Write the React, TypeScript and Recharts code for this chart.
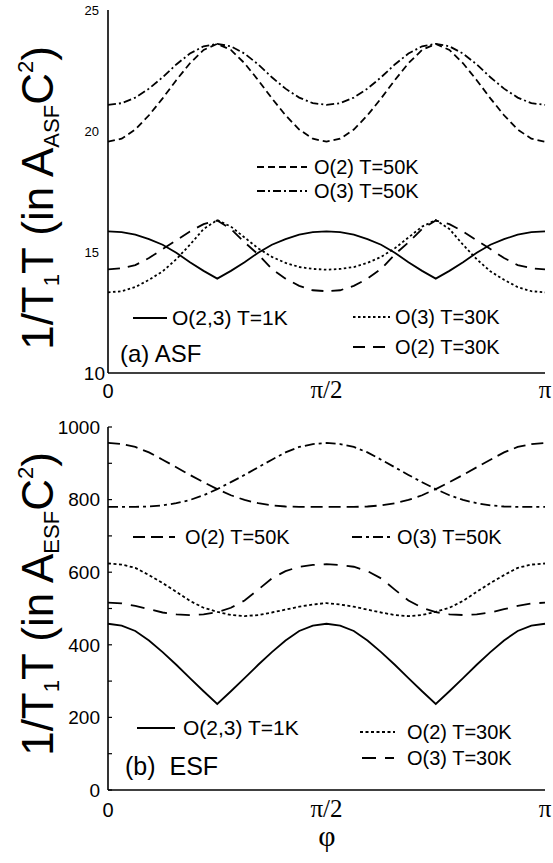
import React from 'react';
import { LineChart, Line, XAxis, YAxis } from 'recharts';

// phi in units of pi/32
const PHI = [0, 1, 2, 3, 4, 5, 6, 7, 8, 9, 10, 11, 12, 13, 14, 15, 16, 17, 18, 19, 20, 21, 22, 23, 24, 25, 26, 27, 28, 29, 30, 31, 32];
const X_TICKS = [0, 16, 32];
const X_TICK_LABELS = ['0', 'π/2', 'π'];
const ASF_Y_TICKS = [10, 15, 20, 25];
const ESF_Y_TICKS = [0, 100, 200, 300, 400, 500, 600, 700, 800, 900, 1000];

// (a) ASF
const ASF_O23_T1 = [15.85, 15.82, 15.72, 15.53, 15.30, 14.97, 14.58, 14.22, 13.90, 14.22, 14.58, 14.97, 15.30, 15.53, 15.72, 15.82, 15.85, 15.82, 15.72, 15.53, 15.30, 14.97, 14.58, 14.22, 13.90, 14.22, 14.58, 14.97, 15.30, 15.53, 15.72, 15.82, 15.85];
const ASF_O3_T30 = [13.33, 13.38, 13.55, 13.85, 14.20, 14.70, 15.30, 15.95, 16.32, 16.05, 15.60, 15.15, 14.80, 14.55, 14.38, 14.30, 14.27, 14.30, 14.38, 14.55, 14.80, 15.15, 15.60, 16.05, 16.32, 15.95, 15.30, 14.70, 14.20, 13.85, 13.55, 13.38, 13.33];
const ASF_O2_T30 = [14.28, 14.33, 14.46, 14.75, 15.12, 15.48, 15.85, 16.15, 16.30, 15.95, 15.40, 14.90, 14.30, 13.90, 13.60, 13.42, 13.38, 13.42, 13.60, 13.90, 14.30, 14.90, 15.40, 15.95, 16.30, 16.15, 15.85, 15.48, 15.12, 14.75, 14.46, 14.33, 14.28];
const ASF_O2_T50 = [19.56, 19.68, 20.06, 20.65, 21.35, 22.10, 22.80, 23.35, 23.60, 23.35, 22.80, 22.10, 21.35, 20.65, 20.06, 19.68, 19.56, 19.68, 20.06, 20.65, 21.35, 22.10, 22.80, 23.35, 23.60, 23.35, 22.80, 22.10, 21.35, 20.65, 20.06, 19.68, 19.56];
const ASF_O3_T50 = [21.08, 21.15, 21.38, 21.75, 22.22, 22.75, 23.20, 23.50, 23.60, 23.50, 23.20, 22.75, 22.22, 21.75, 21.38, 21.15, 21.08, 21.15, 21.38, 21.75, 22.22, 22.75, 23.20, 23.50, 23.60, 23.50, 23.20, 22.75, 22.22, 21.75, 21.38, 21.15, 21.08];

// (b) ESF
const ESF_O23_T1 = [458, 453, 438, 412, 380, 345, 308, 272, 237, 272, 308, 345, 380, 412, 438, 453, 458, 453, 438, 412, 380, 345, 308, 272, 237, 272, 308, 345, 380, 412, 438, 453, 458];
const ESF_O2_T30 = [624, 621, 612, 592, 570, 546, 521, 502, 491, 482, 479, 482, 489, 497, 505, 511, 515, 511, 505, 497, 489, 482, 479, 482, 491, 502, 521, 546, 570, 592, 612, 621, 624];
const ESF_O3_T30 = [516, 514, 507, 498, 489, 484, 482, 484, 490, 502, 522, 552, 583, 603, 615, 620, 622, 620, 615, 603, 583, 552, 522, 502, 490, 484, 482, 484, 489, 498, 507, 514, 516];
const ESF_O2_T50 = [956, 953, 945, 930, 910, 889, 868, 848, 829, 812, 799, 790, 784, 781, 780, 780, 780, 780, 780, 781, 784, 790, 799, 812, 829, 848, 868, 889, 910, 930, 945, 953, 956];
const ESF_O3_T50 = [780, 780, 780, 781, 784, 790, 799, 812, 829, 848, 868, 889, 910, 930, 945, 953, 956, 953, 945, 930, 910, 889, 868, 848, 829, 812, 799, 790, 784, 781, 780, 780, 780];

const asfData = PHI.map((phi, i) => ({
  phi,
  o23t1: ASF_O23_T1[i],
  o3t30: ASF_O3_T30[i],
  o2t30: ASF_O2_T30[i],
  o2t50: ASF_O2_T50[i],
  o3t50: ASF_O3_T50[i],
}));
const esfData = PHI.map((phi, i) => ({
  phi,
  o23t1: ESF_O23_T1[i],
  o2t30: ESF_O2_T30[i],
  o3t30: ESF_O3_T30[i],
  o2t50: ESF_O2_T50[i],
  o3t50: ESF_O3_T50[i],
}));

const SANS = '"Liberation Sans", Arial, Helvetica, sans-serif';
const SERIF = '"Liberation Serif", "Times New Roman", serif';
const AXIS = { stroke: '#000', strokeWidth: 1.6 };
const LW = 1.8;

const makeXTick = (baseOffset: number) => (props: any) => {
  const { x, y, payload } = props;
  const idx = X_TICKS.indexOf(payload.value);
  const label = X_TICK_LABELS[idx];
  const isSerif = idx > 0;
  return (
    <text x={x} y={y + baseOffset} textAnchor="middle" fontFamily={isSerif ? SERIF : SANS} fontSize={isSerif ? 25 : 20} fill="#000">
      {label}
    </text>
  );
};

const AsfYTick = (props: any) => {
  const { x, y, payload } = props;
  const big = payload.value === 10;
  return (
    <text x={big ? x + 5 : x - 1} y={y} dy="0.36em" textAnchor="end" fontFamily={SANS} fontSize={big ? 19 : 13} fill="#000">
      {payload.value}
    </text>
  );
};

const EsfYTick = (props: any) => {
  const { x, y, payload } = props;
  const show = payload.value % 200 === 0;
  return (
    <g>
      <line x1={x + 8} x2={x + 12} y1={y} y2={y} stroke="#000" strokeWidth={1.2} />
      {show && (
        <text x={x} y={y} dy="0.36em" textAnchor="end" fontFamily={SANS} fontSize={19} fill="#000">
          {payload.value}
        </text>
      )}
    </g>
  );
};

const EsfRightTick = (props: any) => {
  const { x, y } = props;
  return <line x1={x - 4} x2={x} y1={y} y2={y} stroke="#000" strokeWidth={1.2} />;
};

const YLabel = ({ cx, cy, sub }: { cx: number; cy: number; sub: string }) => (
  <text
    x={cx}
    y={cy}
    transform={`rotate(-90 ${cx} ${cy})`}
    textAnchor="middle"
    fontFamily={SANS}
    fontSize={44}
    fill="#000"
  >
    <tspan>1/T</tspan>
    <tspan fontSize={22} dy={6}>1</tspan>
    <tspan dy={-6}>T (in A</tspan>
    <tspan fontSize={22} dy={6}>{sub}</tspan>
    <tspan dy={-6}>C</tspan>
    <tspan fontSize={22} dy={-20}>2</tspan>
    <tspan dy={20}>)</tspan>
  </text>
);

const LegendItem = ({ x1, x2, y, dash, tx, ty, label, fs = 20 }: any) => (
  <g>
    <line x1={x1} x2={x2} y1={y} y2={y} stroke="#000" strokeWidth={LW} strokeDasharray={dash} />
    <text x={tx} y={ty} fontFamily={SANS} fontSize={fs} fill="#000">{label}</text>
  </g>
);

export default function App() {
  return (
    <div style={{ position: 'absolute', left: 0, top: 0, width: 553, height: 863, background: '#fff' }}>
      <div style={{ position: 'absolute', left: 0, top: 0 }}>
        <LineChart width={553} height={410} data={asfData} margin={{ top: 10, right: 8, bottom: 0, left: 0 }}>
          <XAxis dataKey="phi" type="number" domain={[0, 32]} ticks={X_TICKS} tick={makeXTick(25)} tickLine={false} tickSize={0} tickMargin={0} height={37} axisLine={AXIS} interval={0} />
          <XAxis xAxisId="top" orientation="top" dataKey="phi" type="number" domain={[0, 32]} tick={false} tickLine={false} height={0} axisLine={AXIS} />
          <YAxis type="number" domain={[10, 25]} ticks={ASF_Y_TICKS} width={108} tick={AsfYTick} tickLine={false} tickSize={0} tickMargin={8} axisLine={AXIS} interval={0} allowDataOverflow />
          <YAxis yAxisId="right" orientation="right" type="number" domain={[10, 25]} width={0} tick={false} tickLine={false} axisLine={AXIS} />
          <Line dataKey="o23t1" type="linear" stroke="#000" strokeWidth={LW} dot={false} isAnimationActive={false} />
          <Line dataKey="o3t30" type="linear" stroke="#000" strokeWidth={LW} strokeDasharray="2.5 2.5" dot={false} isAnimationActive={false} />
          <Line dataKey="o2t30" type="linear" stroke="#000" strokeWidth={LW} strokeDasharray="12 8" dot={false} isAnimationActive={false} />
          <Line dataKey="o2t50" type="linear" stroke="#000" strokeWidth={LW} strokeDasharray="7 4" dot={false} isAnimationActive={false} />
          <Line dataKey="o3t50" type="linear" stroke="#000" strokeWidth={LW} strokeDasharray="8 3 2 3" dot={false} isAnimationActive={false} />
        </LineChart>
      </div>
      <div style={{ position: 'absolute', left: 0, top: 417 }}>
        <LineChart width={553} height={423} data={esfData} margin={{ top: 10, right: 8, bottom: 0, left: 0 }}>
          <XAxis dataKey="phi" type="number" domain={[0, 32]} ticks={X_TICKS} tick={makeXTick(27)} tickLine={false} tickSize={0} tickMargin={0} height={50} axisLine={AXIS} interval={0} />
          <XAxis xAxisId="top" orientation="top" dataKey="phi" type="number" domain={[0, 32]} tick={false} tickLine={false} height={0} axisLine={AXIS} />
          <YAxis type="number" domain={[0, 1000]} ticks={ESF_Y_TICKS} width={108} tick={EsfYTick} tickLine={false} tickSize={0} tickMargin={8} axisLine={AXIS} interval={0} allowDataOverflow />
          <YAxis yAxisId="right" orientation="right" type="number" domain={[0, 1000]} ticks={ESF_Y_TICKS} width={0} tick={EsfRightTick} tickLine={false} tickSize={0} tickMargin={0} axisLine={AXIS} interval={0} />
          <Line dataKey="o23t1" type="linear" stroke="#000" strokeWidth={LW} dot={false} isAnimationActive={false} />
          <Line dataKey="o2t30" type="linear" stroke="#000" strokeWidth={LW} strokeDasharray="3 2.5" dot={false} isAnimationActive={false} />
          <Line dataKey="o3t30" type="linear" stroke="#000" strokeWidth={LW} strokeDasharray="14 9" dot={false} isAnimationActive={false} />
          <Line dataKey="o2t50" type="linear" stroke="#000" strokeWidth={LW} strokeDasharray="12 6" dot={false} isAnimationActive={false} />
          <Line dataKey="o3t50" type="linear" stroke="#000" strokeWidth={LW} strokeDasharray="10 4 3 4" dot={false} isAnimationActive={false} />
        </LineChart>
      </div>
      <svg width={553} height={863} style={{ position: 'absolute', left: 0, top: 0, pointerEvents: 'none' }}>
        <YLabel cx={53} cy={198} sub="ASF" />
        <YLabel cx={53} cy={604} sub="ESF" />
        {/* (a) legends */}
        <LegendItem x1={257} x2={307} y={167} dash="7 4" tx={314} ty={174} label="O(2) T=50K" />
        <LegendItem x1={257} x2={307} y={191} dash="8 3 2 3" tx={314} ty={198} label="O(3) T=50K" />
        <LegendItem x1={133} x2={167} y={318} tx={172} ty={325} label="O(2,3) T=1K" fs={21} />
        <LegendItem x1={353} x2={390} y={317} dash="2.5 2.5" tx={395} ty={324} label="O(3) T=30K" />
        <LegendItem x1={353} x2={390} y={347} dash="12 8" tx={395} ty={354} label="O(2) T=30K" />
        <text x={120} y={362} fontFamily={SANS} fontSize={24} fill="#000">(a) ASF</text>
        {/* (b) legends */}
        <LegendItem x1={133} x2={175} y={537} dash="12 6" tx={185} ty={544} label="O(2) T=50K" />
        <LegendItem x1={352} x2={390} y={537} dash="10 4 3 4" tx={397} ty={544} label="O(3) T=50K" />
        <LegendItem x1={137} x2={175} y={728} tx={183} ty={735} label="O(2,3) T=1K" fs={21} />
        <LegendItem x1={360} x2={395} y={732} dash="3 2.5" tx={407} ty={739} label="O(2) T=30K" />
        <LegendItem x1={362} x2={394} y={758} dash="14 9" tx={407} ty={765} label="O(3) T=30K" />
        <text x={125} y={775} fontFamily={SANS} fontSize={25} fill="#000">(b){'\u00A0\u00A0'}ESF</text>
        <text x={327} y={846} textAnchor="middle" fontFamily={SERIF} fontSize={30} fill="#000">φ</text>
      </svg>
    </div>
  );
}
